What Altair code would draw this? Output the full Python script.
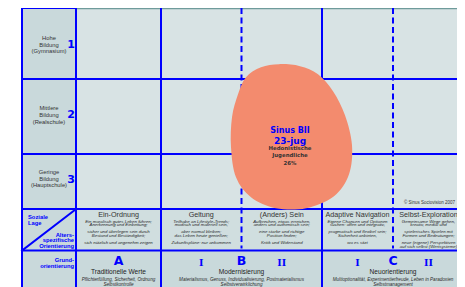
import altair as alt
import pandas as pd

# ---------------- chart content ----------------
education_labels = [["Hohe", "Bildung", "(Gymnasium)"], ["Mittlere", "Bildung", "(Realschule)"],
                    ["Geringe", "Bildung", "(Hauptschule)"]]
education_ranks = ["1", "2", "3"]
label_social = ["Soziale", "Lage"]
label_age = ["Alters-", "spezifische", "Orientierung"]
label_basic = ["Grund-", "orientierung"]

age_orientations = ["Ein-Ordnung", "Geltung", "(Anders) Sein", "Adaptive Navigation", "Selbst-Exploration"]
age_descriptions = [
    [["Ein moralisch gutes Leben führen;", "Anerkennung und Einbettung;"],
     ["sicher und überlegen sein durch", "Bestand und Beständigkeit;"],
     ["sich nützlich und angenehm zeigen"]],
    [["Teilhabe an Lifestyle-Trends;", "modisch und materiell sein,"],
     ["aber normal bleiben;", "das Leben heute genießen;"],
     ["Zukunftspläne: nur ankommen"]],
    [["Aufbrechen, etwas erreichen,", "anders und authentisch sein;"],
     ["eine starke und richtige", "Position finden;"],
     ["Kritik und Widerstand"]],
    [["Eigene Chancen und Optionen", "suchen: offen und integrativ,"],
     ["pragmatisch und flexibel sein;", "Sicherheit anbieten,"],
     ["wo es sitzt"]],
    [["Gemeinsame Wege gehen,", "kreativ, medial und"],
     ["spielerisches Spielen mit", "Formen und Bedeutungen;"],
     ["neue (eigene) Perspektiven", "auf sich selbst (Wertsysteme)"]],
]

basic_letters = ["A", "B", "C"]
basic_titles = ["Traditionelle Werte", "Modernisierung", "Neuorientierung"]
basic_descriptions = [
    ["Pflichterfüllung, Sicherheit, Ordnung", "Selbstkontrolle"],
    ["Materialismus, Genuss, Individualisierung, Postmaterialismus", "Selbstverwirklichung"],
    ["Multioptionalität, Experimentierfreude, Leben in Paradoxien", "Selbstmanagement"],
]
sub_numerals = ["I", "II"]

milieu_code = "Sinus BII"
milieu_group = "23-jug"
milieu_name = ["Hedonistische", "Jugendliche"]
milieu_share = 26
copyright_note = "© Sinus Sociovision 2007"

# ---------------- layout (diagram grid) ----------------
COL = [22, 76, 161, 322, 464]
ROW = [4, 76, 152, 208, 250, 287]
B_MID = (COL[2] + COL[3]) / 2
C_MID = (COL[3] + COL[4]) / 2
age_x = [(COL[1] + COL[2]) / 2, (COL[2] + B_MID) / 2, (B_MID + COL[3]) / 2,
         (COL[3] + C_MID) / 2, (C_MID + COL[4]) / 2]
basic_x = [(COL[1] + COL[2]) / 2, B_MID, C_MID]
numeral_x = [[age_x[1], age_x[2]], [age_x[3], age_x[4]]]

BLUE = "#0000ff"
DARK = "#333333"
W, H = 449, 279

X = dict(scale=alt.Scale(domain=[8, 8 + W], zero=False, nice=False), axis=None)
Y = dict(scale=alt.Scale(domain=[4, 287], zero=False, nice=False, reverse=True), axis=None)


def xe(f="x"):
    return alt.X(f"{f}:Q", **X)


def ye(f="y"):
    return alt.Y(f"{f}:Q", **Y)


RIGHT = 8 + W

# backgrounds
bg = pd.DataFrame([
    dict(x=COL[1], x2=RIGHT, y=ROW[0], y2=ROW[3], c="#d8e3e4"),
    dict(x=COL[0], x2=COL[1], y=ROW[0], y2=287, c="#c9d9db"),
    dict(x=COL[1], x2=RIGHT, y=ROW[3], y2=ROW[4], c="#d0dedf"),
    dict(x=COL[1], x2=RIGHT, y=ROW[4], y2=287, c="#c9d9db"),
])
bg_layer = alt.Chart(bg).mark_rect().encode(
    x=xe(), x2="x2:Q", y=ye(), y2="y2:Q", color=alt.Color("c:N", scale=None))

# solid lines
solid = []
for cx in COL[:4]:
    solid.append(dict(x=cx, x2=cx, y=ROW[0], y2=287, c=BLUE))
for ry in ROW[1:5]:
    solid.append(dict(x=COL[0], x2=RIGHT, y=ry, y2=ry, c=BLUE))
solid.append(dict(x=COL[0], x2=COL[1], y=ROW[0], y2=ROW[0], c=BLUE))
solid.append(dict(x=COL[0], x2=COL[1], y=ROW[4], y2=ROW[3], c=BLUE))
solid_layer = alt.Chart(pd.DataFrame(solid)).mark_rule(strokeWidth=2, strokeCap="square").encode(
    x=xe(), x2="x2:Q", y=ye(), y2="y2:Q", color=alt.Color("c:N", scale=None))

top_layer = alt.Chart(pd.DataFrame([dict(x=COL[1], x2=RIGHT, y=ROW[0], y2=ROW[0])])).mark_rule(
    strokeWidth=2.5, color="#6f9b9b").encode(x=xe(), x2="x2:Q", y=ye(), y2="y2:Q")

dashed = pd.DataFrame([dict(x=B_MID, y=ROW[0], y2=ROW[4] - 2), dict(x=C_MID, y=ROW[0], y2=ROW[4] - 2)])
dashed_layer = alt.Chart(dashed).mark_rule(strokeWidth=2, strokeDash=[6, 3.5], color=BLUE).encode(
    x=xe(), y=ye(), y2="y2:Q")

# blob outline (diagram shape, in reference pixel space)
blob_pts = [(279, 62), (300, 64), (318, 72), (333, 89), (345, 113), (352, 143), (349, 172),
            (334, 194), (306, 206), (276, 206), (251, 195), (236, 175), (231, 145), (232, 115),
            (238, 92), (246, 75), (261, 65)]
BCX, BCY, BR = 292.0, 135.0, 75.0
pts = [((px - BCX) / BR, (py - BCY) / BR) for px, py in blob_pts]
n = len(pts)
path = f"M{pts[0][0]:.4f},{pts[0][1]:.4f}"
for i in range(n):
    p0, p1, p2, p3 = pts[i - 1], pts[i], pts[(i + 1) % n], pts[(i + 2) % n]
    c1 = (p1[0] + (p2[0] - p0[0]) / 6, p1[1] + (p2[1] - p0[1]) / 6)
    c2 = (p2[0] - (p3[0] - p1[0]) / 6, p2[1] - (p3[1] - p1[1]) / 6)
    path += f"C{c1[0]:.4f},{c1[1]:.4f},{c2[0]:.4f},{c2[1]:.4f},{p2[0]:.4f},{p2[1]:.4f}"
path += "Z"
blob_layer = alt.Chart(pd.DataFrame([dict(x=BCX, y=BCY)])).mark_point(
    shape=path, filled=True, size=(2 * BR) ** 2, color="#f38b6e", opacity=1, strokeWidth=0).encode(
    x=xe(), y=ye())


def text_layer(rows, **kw):
    base = dict(baseline="middle", align="center", font="Liberation Sans")
    base.update(kw)
    return alt.Chart(pd.DataFrame(rows)).mark_text(**base).encode(
        x=xe(), y=ye(), text="t:N")


layers = [bg_layer, top_layer, solid_layer, dashed_layer, blob_layer]

edu_line_y = [[34, 41.5, 48], [105.5, 112.5, 119.5], [170.5, 177.5, 184]]
edu_rows = []
for i, lines in enumerate(education_labels):
    for k, line in enumerate(lines):
        edu_rows.append(dict(x=49, y=edu_line_y[i][k], t=line))
layers.append(text_layer(edu_rows, fontSize=5.8, color=DARK))
rank_y = [42, 112.5, 178]
layers.append(text_layer([dict(x=71, y=rank_y[i], t=education_ranks[i]) for i in range(3)],
                         fontSize=11, fontWeight="bold", color=BLUE, font="DejaVu Sans"))
layers.append(text_layer([dict(x=28, y=216 + 6.3 * k, t=label_social[k]) for k in range(2)],
                         align="left", fontSize=5.8, fontWeight="bold", color=BLUE))
layers.append(text_layer([dict(x=74, y=234 + 5.6 * k, t=label_age[k]) for k in range(3)],
                         align="right", fontSize=5.8, fontWeight="bold", color=BLUE))
layers.append(text_layer([dict(x=74, y=260 + 6.2 * k, t=label_basic[k]) for k in range(2)],
                         align="right", fontSize=5.8, fontWeight="bold", color=BLUE))

layers.append(text_layer([dict(x=age_x[i], y=214, t=age_orientations[i]) for i in range(5)],
                         fontSize=7.2, color=DARK))
desc_rows = []
for i, groups in enumerate(age_descriptions):
    for g, lines in enumerate(groups):
        for k, line in enumerate(lines):
            desc_rows.append(dict(x=age_x[i], y=221 + g * 10.7 + k * 3.6, t=line))
layers.append(text_layer(desc_rows, fontSize=4.4, fontStyle="italic", color="#2a2a2a"))

layers.append(text_layer([dict(x=basic_x[i], y=261, t=basic_letters[i]) for i in range(3)],
                         fontSize=12.5, fontWeight="bold", color=BLUE, font="DejaVu Sans"))
num_rows = []
for grp in numeral_x:
    for j, nx in enumerate(grp):
        num_rows.append(dict(x=nx, y=263, t=sub_numerals[j]))
layers.append(text_layer(num_rows, fontSize=9.5, fontWeight="bold", color=BLUE, font="DejaVu Serif"))
layers.append(text_layer([dict(x=basic_x[i], y=272, t=basic_titles[i]) for i in range(3)],
                         fontSize=6.6, color="#222222"))
bd_rows = []
for i, lines in enumerate(basic_descriptions):
    for k, line in enumerate(lines):
        bd_rows.append(dict(x=basic_x[i], y=279.5 + k * 5.6, t=line))
layers.append(text_layer(bd_rows, fontSize=4.6, fontStyle="italic", color="#2a2a2a"))

layers.append(text_layer([dict(x=455, y=202, t=copyright_note)], align="right", fontSize=4.5, color=DARK))

layers.append(text_layer([dict(x=290, y=129, t=milieu_code)], fontSize=8, fontWeight="bold",
                         color=BLUE, font="DejaVu Sans"))
layers.append(text_layer([dict(x=290, y=139, t=milieu_group)], fontSize=9, fontWeight="bold",
                         color=BLUE, font="DejaVu Sans"))
layers.append(text_layer([dict(x=290, y=146 + 7.5 * k, t=milieu_name[k]) for k in range(2)],
                         fontSize=5.4, fontWeight="bold", color=DARK, font="DejaVu Sans"))
layers.append(text_layer([dict(x=290, y=161.5, t=f"{milieu_share}%")], fontSize=5.4, fontWeight="bold",
                         color=DARK, font="DejaVu Sans"))

chart = alt.layer(*layers).properties(
    width=W, height=H, autosize=alt.AutoSizeParams(type="none"), padding=0,
    background="white"
).configure_view(strokeWidth=0)

chart.save("out.html", embed_options={"renderer": "svg", "actions": False})
